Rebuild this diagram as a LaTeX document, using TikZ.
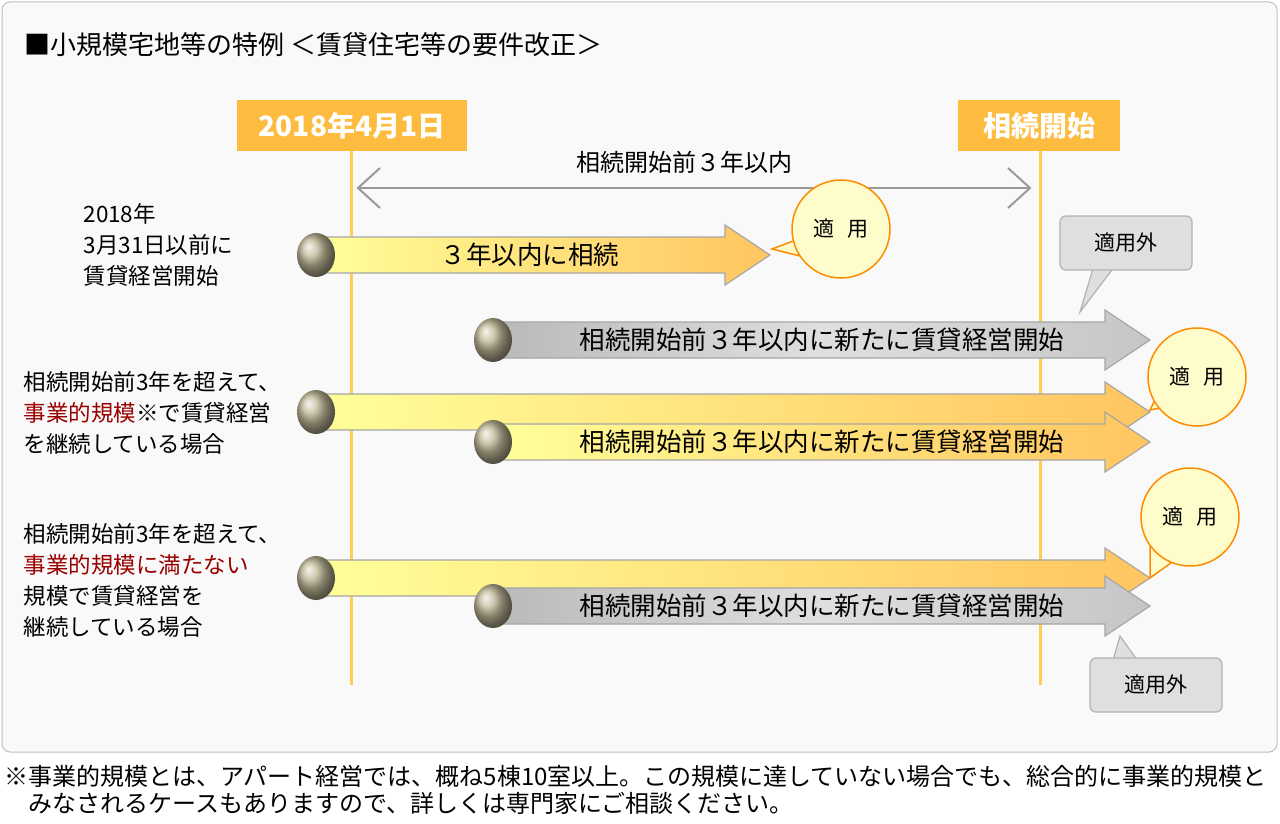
\documentclass[tikz,border=0pt]{standalone}
\usepackage{fontspec}
\setmainfont{Noto Sans CJK JP}
\definecolor{dboxc}{HTML}{FDBB3F}
\definecolor{vlc}{HTML}{FFCC55}
\definecolor{ballc}{HTML}{C0B898}
\definecolor{yl}{HTML}{FFFF99}
\definecolor{yr}{HTML}{FFC560}
\begin{document}
\begin{tikzpicture}[x=1pt,y=-1pt,
  lbl/.style={font=\fontsize{25.5}{29}\selectfont, text=black},
  small/.style={font=\fontsize{22.5}{31}\selectfont, text=black, align=left, anchor=west},
  datebox/.style={fill=dboxc, text=white, font=\fontsize{28}{32}\selectfont\bfseries, minimum height=51pt, inner xsep=8pt},
  vline/.style={draw=vlc, line width=3pt},
  yarr/.style={draw=gray!70, line width=1.2pt, left color=yl, right color=yr},
  garr/.style={draw=gray!70, line width=1.2pt, left color=gray!55, right color=gray!45, middle color=gray!25},
  ballst/.style={shading=ball, ball color=ballc},
  bub/.style={draw=orange!90!yellow, line width=1.5pt, fill=yellow!20},
  bubt/.style={font=\fontsize{21}{25}\selectfont},
  gbox/.style={draw=gray!60, line width=1.2pt, fill=gray!25}]
\useasboundingbox (0,0) rectangle (1280,824);
\draw[rounded corners=8pt, draw=gray!50, fill=gray!5, line width=1pt] (2,2) rectangle (1277,752);
\node[anchor=west, font=\fontsize{26}{30}\selectfont, inner sep=0pt] (title) at (24,45) {■小規模宅地等の特例 ＜賃貸住宅等の要件改正＞};
\draw[vline] (351,148) -- (351,685);
\draw[vline] (1040,148) -- (1040,685);
\node[datebox, minimum width=230pt] (d1) at (352,126) {2018年4月1日};
\node[datebox, minimum width=162pt] (d2) at (1039,126) {相続開始};
\coordinate (pa) at (358,188); \coordinate (pb) at (1030,188);
\draw[gray!80, line width=2pt] (pa) -- (pb);
\draw[gray!80, line width=2pt] (380,168) -- (pa) -- (380,208);
\draw[gray!80, line width=2pt] (1008,168) -- (pb) -- (1008,208);
\node[lbl, font=\fontsize{24}{28}\selectfont] (span) at (684,162) {相続開始前３年以内};
\node[small] (t1) at (80,245) {2018年\\3月31日以前に\\賃貸経営開始};
\node[small] (t2) at (20,413) {相続開始前3年を超えて、\\\textcolor{red!60!black}{事業的規模}※で賃貸経営\\を継続している場合};
\node[small] (t3) at (20,580) {相続開始前3年を超えて、\\\textcolor{red!60!black}{事業的規模に満たない}\\規模で賃貸経営を\\継続している場合};
\newcommand{\fatarrow}[5]{%
  \path[#1] (#2,#3-18) -- (#4,#3-18) -- (#4,#3-30) -- (#5,#3) -- (#4,#3+30) -- (#4,#3+18) -- (#2,#3+18) -- cycle;}
\fatarrow{yarr}{316}{255}{725}{770}
\shade[ballst] (316,255) ellipse (19 and 22);
\node[lbl] (a1) at (530,255) {３年以内に相続};
\fatarrow{garr}{493}{340}{1105}{1150}
\shade[ballst] (493,340) ellipse (19 and 22);
\node[lbl] (a2) at (822,340) {相続開始前３年以内に新たに賃貸経営開始};
\fatarrow{yarr}{316}{412}{1105}{1150}
\shade[ballst] (316,412) ellipse (19 and 22);
\fatarrow{yarr}{493}{442}{1105}{1150}
\shade[ballst] (493,442) ellipse (19 and 22);
\node[lbl] (a3) at (822,442) {相続開始前３年以内に新たに賃貸経営開始};
\fatarrow{yarr}{316}{578}{1105}{1150}
\shade[ballst] (316,578) ellipse (19 and 22);
\fatarrow{garr}{493}{606}{1105}{1150}
\shade[ballst] (493,606) ellipse (19 and 22);
\node[lbl] (a4) at (822,606) {相続開始前３年以内に新たに賃貸経営開始};
\path[bub] (796,240) -- (772,249) -- (800,256) -- cycle;
\path[bub] (841,229) circle (49);
\node[bubt] (b1) at (841,229) {適\hspace{0.6em}用};
\path[bub] (1160,390) -- (1150,410) -- (1175,405) -- cycle;
\path[bub] (1197,377) circle (49);
\node[bubt] (b2) at (1197,377) {適\hspace{0.6em}用};
\path[bub] (1150,545) -- (1150,578) -- (1175,560) -- cycle;
\path[bub] (1190,517) circle (49);
\node[bubt] (b3) at (1190,517) {適\hspace{0.6em}用};
\path[gbox] (1095,262) -- (1080,312) -- (1118,262) -- cycle;
\path[gbox, rounded corners=6pt] (1060,216) rectangle (1192,270);
\node[bubt] (g1) at (1126,243) {適用外};
\path[gbox] (1112,664) -- (1120,636) -- (1140,664) -- cycle;
\path[gbox, rounded corners=6pt] (1090,658) rectangle (1222,712);
\node[bubt] (g2) at (1156,685) {適用外};
\node[anchor=west, font=\fontsize{24}{27}\selectfont, align=left, inner sep=0pt] (fn) at (4,790) {※事業的規模とは、アパート経営では、概ね5棟10室以上。この規模に達していない場合でも、総合的に事業的規模と\\\hspace{1em}みなされるケースもありますので、詳しくは専門家にご相談ください。};
\end{tikzpicture}
\end{document}
